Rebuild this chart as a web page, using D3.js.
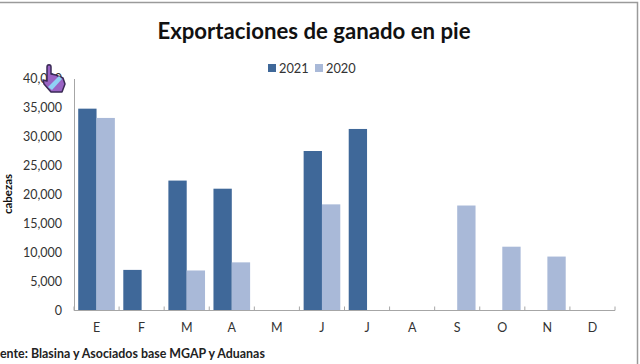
<!DOCTYPE html>
<html><head><meta charset="utf-8">
<script src="https://cdn.jsdelivr.net/npm/d3@7"></script>
<style>
html,body{margin:0;padding:0;background:#fff}
svg{display:block}
text{font-family:Lato,"Open Sans",sans-serif}
</style></head><body>
<svg id="c" width="640" height="364"></svg>
<script>
const months = ["E","F","M","A","M","J","J","A","S","O","N","D"];
const values2021 = [34800,7000,22400,21000,0,27500,31300,0,0,0,0,0];
const values2020 = [33200,0,6900,8300,0,18300,0,0,18100,11000,9300,0];
const yTicks = [0,5000,10000,15000,20000,25000,30000,35000,40000];
const seriesNames = ["2021","2020"];
const colors = ["#3f6899","#a9b9d8"];

const svg = d3.select("#c");
const L=74, R=615, T=78.5, B=310.5;
const x = d3.scaleBand().domain(d3.range(months.length)).range([L,R]).paddingInner(0).paddingOuter(0);
const y = d3.scaleLinear().domain([0,40000]).range([B,T]);
const inner = d3.scaleBand().domain([0,1]).range([0,x.bandwidth()]).paddingOuter(0.23).paddingInner(0);

// frame
svg.append("path").attr("d","M0,2.5H637.5V364").attr("fill","none").attr("stroke","#9a9a9a").attr("stroke-width",1.5);

// bars
[values2021,values2020].forEach((vals,s)=>{
  svg.append("g").selectAll("rect").data(vals).join("rect")
    .attr("x",(d,i)=>x(i)+inner(s))
    .attr("width",inner.bandwidth())
    .attr("y",d=>y(d))
    .attr("height",d=>y(0)-y(d))
    .attr("fill",colors[s]);
});

// y axis
const yAxis = d3.axisLeft(y).tickValues(yTicks).tickFormat(d3.format(",")).tickSize(0).tickPadding(12);
const gy = svg.append("g").attr("transform",`translate(${L},0)`).call(yAxis);
gy.select(".domain").attr("stroke","#a6a6a6");
gy.selectAll("text").attr("font-size",12.5).attr("fill","#333");

// x axis
const xLine = d3.scaleLinear().domain([0,months.length]).range([L,R]);
const gx = svg.append("g").attr("transform",`translate(0,${B})`);
gx.append("line").attr("x1",L).attr("x2",R).attr("stroke","#a6a6a6");
gx.selectAll("line.t").data(d3.range(months.length+1)).join("line").attr("class","t")
  .attr("x1",d=>xLine(d)).attr("x2",d=>xLine(d)).attr("y1",-4).attr("y2",0).attr("stroke","#a6a6a6");
gx.selectAll("text").data(months).join("text")
  .attr("x",(d,i)=>x(i)+x.bandwidth()/2).attr("y",21).attr("text-anchor","middle")
  .attr("font-size",12.5).attr("fill","#333").text(d=>d);

// title
svg.append("text").attr("x",314).attr("y",39).attr("text-anchor","middle")
  .attr("font-size",22.2).attr("font-weight",700).attr("fill","#111").text("Exportaciones de ganado en pie");

// legend
const lx=[268,315];
seriesNames.forEach((n,i)=>{
  svg.append("rect").attr("x",lx[i]).attr("y",64).attr("width",8).attr("height",8).attr("fill",colors[i]);
  svg.append("text").attr("x",lx[i]+11).attr("y",73).attr("font-size",12.8).attr("fill","#333").text(n);
});

// y title
svg.append("text").attr("transform","translate(12,194) rotate(-90)").attr("text-anchor","middle")
  .attr("font-size",11.5).attr("font-weight",700).attr("fill","#111").text("cabezas");

// source
svg.append("text").attr("x",0).attr("y",358).attr("font-size",12.4).attr("font-weight",700).attr("fill","#222")
  .text("ente: Blasina y Asociados base MGAP y Aduanas");

// cursor hand
const h = svg.append("g").attr("transform","translate(41,65)");
h.append("path").attr("d","M6,2C6,-1 10,-1 10,2V9L15,10L17,11L22,13L24,19L21,27H10L3,19L2,15L6,16Z")
  .attr("fill","#9a63c4").attr("stroke","#3a2a55").attr("stroke-width",1.5).attr("stroke-linejoin","round");
h.append("path").attr("d","M7,22L18,11L21,14L11,25Z").attr("fill","#8fd0f5");
</script>
</body></html>
